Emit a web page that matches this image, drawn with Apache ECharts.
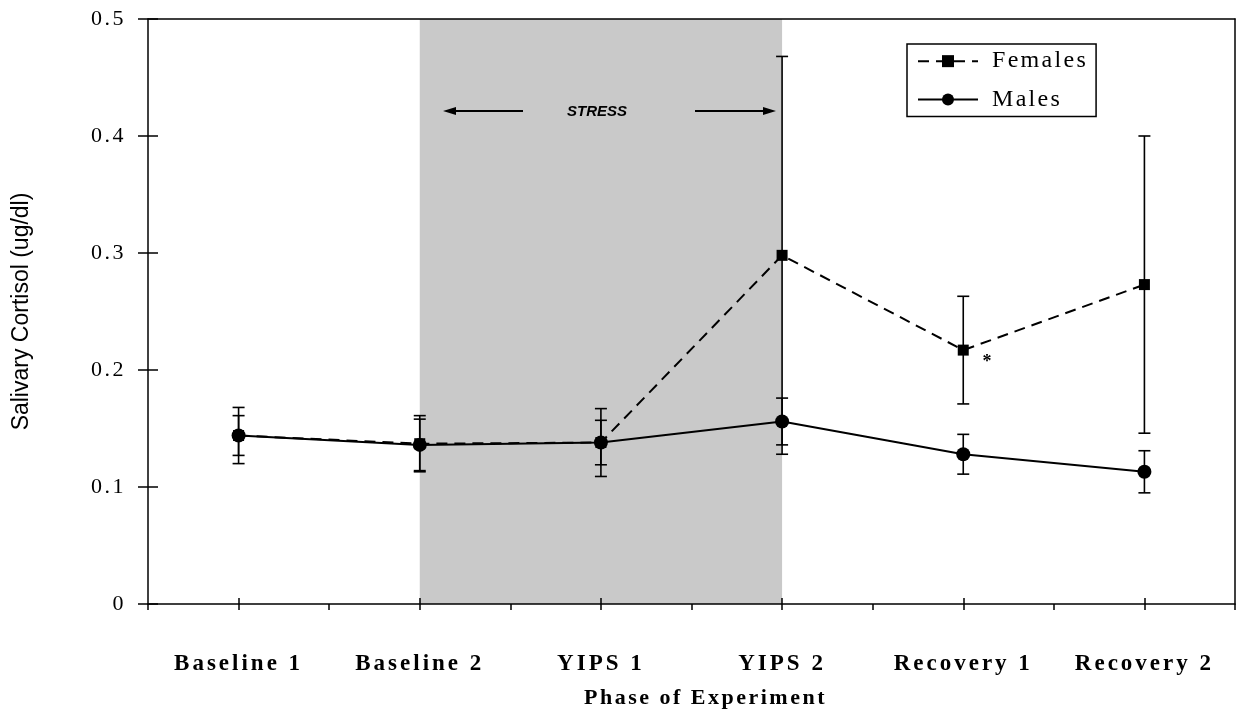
<!DOCTYPE html>
<html>
<head>
<meta charset="utf-8">
<script src="https://cdn.jsdelivr.net/npm/echarts@6/dist/echarts.min.js"></script>
<style>
html,body{margin:0;padding:0;background:#fff;}
#c{width:1236px;height:711px;}
</style>
</head>
<body>
<div id="c"></div>
<script>
const categories = ['Baseline 1', 'Baseline 2', 'YIPS 1', 'YIPS 2', 'Recovery 1', 'Recovery 2'];
const femalesMean = [0.144, 0.137, 0.138, 0.298, 0.217, 0.273];
const femalesErr  = [0.024, 0.024, 0.029, 0.170, 0.046, 0.127];
const malesMean   = [0.144, 0.136, 0.138, 0.156, 0.128, 0.113];
const malesErr    = [0.017, 0.022, 0.019, 0.020, 0.017, 0.018];
const yTicks = [0, 0.1, 0.2, 0.3, 0.4, 0.5];

// letter spacing emulation for the printed, widely tracked type (canvas letterSpacing)
(function () {
  const P = window.CanvasRenderingContext2D && CanvasRenderingContext2D.prototype;
  if (!P || !('letterSpacing' in P)) return;
  function spacing(font) {
    const m = /(\d+(?:\.\d+)?)px/.exec(font || '');
    if (!m) return '0px';
    const size = parseFloat(m[1]);
    const bold = /bold|[6-9]00/.test(font);
    const serif = /Serif/.test(font);
    if (!serif) return '0px';
    if (bold && size === 23) return '3px';
    if (bold && size === 22) return '2.5px';
    if (!bold && size === 24) return '2.3px';
    if (!bold && size === 22) return '2.5px';
    return '0px';
  }
  ['fillText', 'strokeText', 'measureText'].forEach(fn => {
    const orig = P[fn];
    P[fn] = function () {
      const prev = this.letterSpacing;
      this.letterSpacing = spacing(this.font);
      const r = orig.apply(this, arguments);
      this.letterSpacing = prev;
      return r;
    };
  });
})();

const SERIF = '"Liberation Serif", "DejaVu Serif", serif';
const SANS = '"Liberation Sans", Arial, sans-serif';

function errData(mean, err) {
  return categories.map((c, i) => [i, mean[i] - err[i], mean[i] + err[i]]);
}
function errRender(params, api) {
  const x = api.value(0);
  const lo = api.coord([x, api.value(1)]);
  const hi = api.coord([x, api.value(2)]);
  const w = 6;
  const st = { stroke: '#000', lineWidth: 1.6 };
  return {
    type: 'group',
    children: [
      { type: 'line', shape: { x1: lo[0], y1: lo[1], x2: hi[0], y2: hi[1] }, style: st },
      { type: 'line', shape: { x1: lo[0] - w, y1: lo[1], x2: lo[0] + w, y2: lo[1] }, style: st },
      { type: 'line', shape: { x1: hi[0] - w, y1: hi[1], x2: hi[0] + w, y2: hi[1] }, style: st }
    ]
  };
}

const chart = echarts.init(document.getElementById('c'), null, { renderer: 'canvas', width: 1236, height: 711 });

const baseY = {
  type: 'value', min: 0, max: 0.5, interval: 0.1,
  splitLine: { show: false }
};

const option = {
  animation: false,
  backgroundColor: '#fff',
  grid: { left: 148, right: 1, top: 19, height: 585, show: false, outerBoundsMode: 'none', containLabel: false },
  legend: {
    orient: 'vertical',
    left: 907, top: 44,
    padding: [4, 8, 4, 10],
    itemGap: 12,
    itemWidth: 60, itemHeight: 15,
    borderColor: '#000', borderWidth: 1.5,
    backgroundColor: '#fff',
    textStyle: { fontFamily: SERIF, fontSize: 24, color: '#000', padding: [0, 0, 0, 9] },
    data: ['Females', 'Males'],
    z: 20
  },
  xAxis: [
    {
      type: 'category', data: categories, boundaryGap: true, position: 'bottom', z: 10,
      axisLine: { lineStyle: { color: '#000', width: 1.5 } },
      axisTick: { show: true, length: 6, inside: false, lineStyle: { color: '#000', width: 1.5 } },
      axisLabel: { margin: 47, fontFamily: SERIF, fontWeight: 'bold', fontSize: 23, color: '#000', interval: 0 },
      name: 'Phase of Experiment', nameLocation: 'middle', nameGap: 82,
      nameTextStyle: { fontFamily: SERIF, fontWeight: 'bold', fontSize: 22, color: '#000', padding: [0, 0, 0, 28] }
    },
    {
      type: 'category', data: categories, boundaryGap: true, position: 'bottom', z: 10,
      axisLine: { show: false },
      axisTick: { show: true, alignWithLabel: true, length: 6, inside: true, lineStyle: { color: '#000', width: 1.5 } },
      axisLabel: { show: false }
    },
    {
      type: 'category', data: categories, boundaryGap: true, position: 'bottom', z: 10,
      axisLine: { show: false },
      axisTick: { show: true, alignWithLabel: true, length: 6, inside: false, lineStyle: { color: '#000', width: 1.5 } },
      axisLabel: { show: false }
    },
    {
      type: 'category', data: categories, boundaryGap: true, position: 'top', z: 10,
      axisLine: { lineStyle: { color: '#000', width: 1.5 } },
      axisTick: { show: false }, axisLabel: { show: false }
    }
  ],
  yAxis: [
    Object.assign({}, baseY, {
      position: 'left', z: 10,
      axisLine: { show: true, lineStyle: { color: '#000', width: 1.5 } },
      axisTick: { show: true, length: 10, inside: false, lineStyle: { color: '#000', width: 1.5 } },
      axisLabel: {
        margin: 22, fontFamily: SERIF, fontSize: 22, color: '#000',
        formatter: v => { const t = yTicks.find(k => Math.abs(k - v) < 1e-9); return t === 0 ? '0' : (t !== undefined ? t.toFixed(1) : ''); }
      },
      name: 'Salivary Cortisol (ug/dl)', nameLocation: 'middle', nameGap: 115,
      nameTextStyle: { fontFamily: SANS, fontSize: 23, color: '#000' }
    }),
    Object.assign({}, baseY, {
      position: 'left', z: 10,
      axisLine: { show: false },
      axisTick: { show: true, length: 10, inside: true, lineStyle: { color: '#000', width: 1.5 } },
      axisLabel: { show: false }
    }),
    Object.assign({}, baseY, {
      position: 'right', z: 10,
      axisLine: { show: true, lineStyle: { color: '#000', width: 1.5 } },
      axisTick: { show: false }, axisLabel: { show: false }
    })
  ],
  series: [
    {
      name: 'shade', type: 'line', data: [], z: 1, silent: true,
      xAxisIndex: 0, yAxisIndex: 0,
      markArea: {
        silent: true,
        itemStyle: { color: '#c9c9c9' },
        data: [[{ xAxis: 'Baseline 2' }, { xAxis: 'YIPS 2' }]]
      }
    },
    {
      name: 'Females', type: 'line', data: femalesMean, z: 5,
      xAxisIndex: 0, yAxisIndex: 0,
      symbol: 'rect', symbolSize: 11,
      itemStyle: { color: '#000' },
      lineStyle: { color: '#000', width: 2, type: [11, 7] }
    },
    {
      name: 'Males', type: 'line', data: malesMean, z: 5,
      xAxisIndex: 0, yAxisIndex: 0,
      symbol: 'circle', symbolSize: 14,
      itemStyle: { color: '#000' },
      lineStyle: { color: '#000', width: 2, type: 'solid' }
    },
    {
      name: 'Females error', type: 'custom', z: 4,
      xAxisIndex: 0, yAxisIndex: 0,
      renderItem: errRender, data: errData(femalesMean, femalesErr),
      encode: { x: 0, y: [1, 2] }
    },
    {
      name: 'Males error', type: 'custom', z: 4,
      xAxisIndex: 0, yAxisIndex: 0,
      renderItem: errRender, data: errData(malesMean, malesErr),
      encode: { x: 0, y: [1, 2] }
    }
  ],
  graphic: [
    { type: 'line', shape: { x1: 452, y1: 111, x2: 523, y2: 111 }, style: { stroke: '#000', lineWidth: 2 }, z: 20 },
    { type: 'polygon', shape: { points: [[443, 111], [456, 107], [456, 115]] }, style: { fill: '#000' }, z: 20 },
    { type: 'line', shape: { x1: 695, y1: 111, x2: 766, y2: 111 }, style: { stroke: '#000', lineWidth: 2 }, z: 20 },
    { type: 'polygon', shape: { points: [[776, 111], [763, 107], [763, 115]] }, style: { fill: '#000' }, z: 20 },
    { type: 'text', x: 597, y: 112, style: { text: 'STRESS', font: 'italic bold 15px "Liberation Sans", Arial, sans-serif', fill: '#000', align: 'center', verticalAlign: 'middle' }, z: 20 },
    { type: 'text', x: 987, y: 362, style: { text: '*', font: 'bold 18px "Liberation Serif", serif', fill: '#000', align: 'center', verticalAlign: 'middle' }, z: 20 }
  ]
};
chart.setOption(option);
</script>
</body>
</html>
